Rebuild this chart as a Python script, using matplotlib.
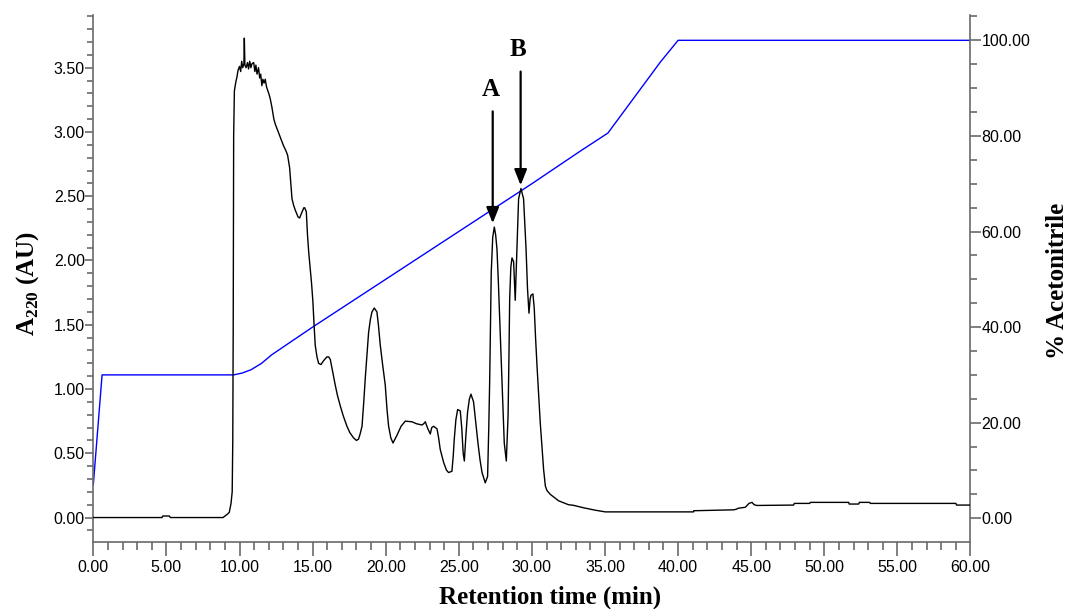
import matplotlib
matplotlib.use("Agg")
import matplotlib.pyplot as plt
from matplotlib import font_manager
from matplotlib.ticker import MultipleLocator, FormatStrFormatter

# absorbance trace (A220)
time_min = [0, 4.7, 4.75, 5.2, 5.27, 8.87, 9.14, 9.3, 9.42, 9.5, 9.54, 9.57, 9.6, 9.65, 9.75,
            9.83, 9.9, 10.0, 10.08, 10.15, 10.22, 10.3, 10.33, 10.37, 10.45, 10.55, 10.62, 10.7,
            10.78, 10.85, 10.97, 11.05, 11.12, 11.2, 11.3, 11.38, 11.45, 11.53, 11.6, 11.68, 11.76,
            11.85, 12.0, 12.1, 12.22, 12.35, 12.45, 12.55, 12.68, 12.85, 13.02, 13.15, 13.29, 13.43,
            13.52, 13.59, 13.7, 13.82, 14.0, 14.11, 14.25, 14.4, 14.46, 14.57, 14.65, 14.73, 14.85,
            14.93, 15.02, 15.1, 15.18, 15.3, 15.41, 15.57, 15.75, 15.98, 16.1, 16.21, 16.38, 16.55,
            16.7, 16.89, 17.1, 17.35, 17.55, 17.8, 18.0, 18.14, 18.25, 18.38, 18.5, 18.6, 18.72,
            18.83, 18.95, 19.06, 19.22, 19.4, 19.5, 19.63, 19.8, 19.97, 20.09, 20.2, 20.35, 20.5,
            20.77, 21.05, 21.34, 21.8, 22.1, 22.48, 22.6, 22.71, 22.85, 23.05, 23.15, 23.28, 23.51,
            23.62, 23.73, 23.96, 24.15, 24.3, 24.53, 24.62, 24.69, 24.8, 24.92, 25.1, 25.2, 25.3,
            25.38, 25.48, 25.6, 25.72, 25.83, 26.01, 26.15, 26.31, 26.45, 26.59, 26.81, 26.97,
            27.05, 27.11, 27.17, 27.22, 27.32, 27.43, 27.52, 27.61, 27.7, 27.79, 27.95, 28.11,
            28.25, 28.37, 28.43, 28.48, 28.56, 28.64, 28.75, 28.8, 28.86, 28.92, 28.98, 29.09,
            29.25, 29.43, 29.6, 29.7, 29.8, 29.88, 29.94, 30.07, 30.16, 30.25, 30.35, 30.57, 30.8,
            30.92, 31.03, 31.26, 31.49, 31.83, 32.06, 32.5, 32.85, 33.53, 34.34, 35.02, 41.06,
            41.07, 43.8, 44.0, 44.1, 44.6, 44.85, 45.05, 45.2, 45.38, 47.9, 47.95, 49.0, 49.05,
            51.67, 51.7, 52.35, 52.4, 53.1, 53.15, 59.0, 59.05, 60.0]
a220 = [0, 0, 0.012, 0.012, 0, 0, 0.023, 0.04, 0.11, 0.2, 0.6, 1.5, 2.97, 3.32, 3.39,
        3.43, 3.48, 3.51, 3.47, 3.55, 3.5, 3.53, 3.73, 3.52, 3.5, 3.54, 3.49, 3.55,
        3.5, 3.53, 3.54, 3.47, 3.52, 3.45, 3.5, 3.42, 3.45, 3.36, 3.41, 3.38, 3.41,
        3.35, 3.3, 3.26, 3.19, 3.1, 3.06, 3.03, 2.99, 2.94, 2.89, 2.86, 2.82, 2.72,
        2.58, 2.48, 2.43, 2.39, 2.34, 2.33, 2.37, 2.41, 2.41, 2.38, 2.2, 2.07, 1.92,
        1.82, 1.68, 1.5, 1.34, 1.25, 1.2, 1.19, 1.22, 1.25, 1.25, 1.23, 1.13, 1.03,
        0.95, 0.87, 0.79, 0.71, 0.66, 0.62, 0.6, 0.61, 0.65, 0.71, 0.9, 1.08, 1.27,
        1.44, 1.54, 1.6, 1.63, 1.6, 1.5, 1.34, 1.18, 1.03, 0.84, 0.71, 0.62, 0.58,
        0.64, 0.71, 0.75, 0.745, 0.73, 0.72, 0.73, 0.745, 0.7, 0.65, 0.7, 0.71, 0.69,
        0.62, 0.53, 0.43, 0.37, 0.35, 0.36, 0.48, 0.61, 0.76, 0.84, 0.83, 0.7, 0.5,
        0.44, 0.63, 0.82, 0.92, 0.96, 0.9, 0.75, 0.58, 0.45, 0.35, 0.27, 0.32,
        0.7, 1.05, 1.5, 1.91, 2.18, 2.26, 2.2, 2.09, 1.85, 1.57, 1.05, 0.58,
        0.44, 0.79, 1.25, 1.7, 1.95, 2.02, 1.99, 1.85, 1.69, 1.9, 2.09, 2.48,
        2.56, 2.48, 2.09, 1.78, 1.59, 1.7, 1.73, 1.74, 1.63, 1.4, 1.18, 0.74, 0.375,
        0.245, 0.21, 0.18, 0.16, 0.13, 0.12, 0.1, 0.095, 0.076, 0.057, 0.044, 0.044,
        0.053, 0.06, 0.065, 0.072, 0.08, 0.11, 0.118, 0.1, 0.094, 0.097, 0.11, 0.11, 0.118,
        0.118, 0.105, 0.105, 0.118, 0.118, 0.11, 0.11, 0.097, 0.097]

# acetonitrile gradient (%)
grad_time = [0, 0.6, 9.6, 10.2, 10.8, 11.5, 12.2, 15.0, 20.0, 25.0, 30.0, 33.3, 35.2, 38.8, 40.0, 60.0]
grad_pct = [7, 30, 30, 30.4, 31.1, 32.4, 34.2, 40.0, 50.0, 60.0, 70.0, 76.8, 80.6, 95.5, 100, 100]

# peak markers
peak_labels = ["A", "B"]
peak_time = [27.32, 29.23]
arrow_tip = [2.29, 2.585]
arrow_tail = [3.16, 3.47]

names = {f.name for f in font_manager.fontManager.ttflist}
if "Liberation Sans Narrow" in names:
    tick_font, tick_size = "Liberation Sans Narrow", 12.5
else:
    tick_font, tick_size = "Liberation Sans", 11.5

plt.rcParams["mathtext.fontset"] = "custom"
plt.rcParams["mathtext.bf"] = "Liberation Serif:bold"
plt.rcParams["mathtext.rm"] = "Liberation Serif"

axis_col = "#6a6a6a"

fig = plt.figure(figsize=(10.7, 6.09), dpi=100)
ax = fig.add_axes([0.0872, 0.1105, 0.8198, 0.8649])
ax2 = ax.twinx()

ax.plot(time_min, a220, color="black", lw=1.0, zorder=3)
ax2.plot(grad_time, grad_pct, color="#0000ff", lw=1.0)
ax.set_zorder(ax2.get_zorder() + 1)
ax.patch.set_visible(False)

ax.set_xlim(0, 60)
ax.set_ylim(-0.188, 3.91)
ax2.set_ylim(-4.9, 105.3)

ax.xaxis.set_major_locator(MultipleLocator(5))
ax.xaxis.set_minor_locator(MultipleLocator(1))
ax.yaxis.set_major_locator(MultipleLocator(0.5))
ax.yaxis.set_minor_locator(MultipleLocator(0.1))
ax2.yaxis.set_major_locator(MultipleLocator(20))
ax2.yaxis.set_minor_locator(MultipleLocator(5))
for axis in (ax.xaxis, ax.yaxis, ax2.yaxis):
    axis.set_major_formatter(FormatStrFormatter("%.2f"))

for a in (ax, ax2):
    a.spines["top"].set_visible(False)
    for s in a.spines.values():
        s.set_color(axis_col)
        s.set_linewidth(1.2)
ax.spines["right"].set_visible(False)
ax2.spines["left"].set_visible(False)
ax2.spines["bottom"].set_visible(False)

ax.tick_params(axis="x", which="major", length=10, width=1.2, color=axis_col, pad=3)
ax.tick_params(axis="x", which="minor", length=6, width=1.2, color=axis_col)
ax.tick_params(axis="y", which="major", length=6, width=1.2, color=axis_col, pad=0)
ax.tick_params(axis="y", which="minor", length=4, width=1.2, color=axis_col)
ax2.tick_params(axis="y", which="major", length=8, width=1.2, color=axis_col, pad=0)
ax2.tick_params(axis="y", which="minor", length=5, width=1.2, color=axis_col)

for lab in ax.get_xticklabels() + ax.get_yticklabels() + ax2.get_yticklabels():
    lab.set_fontfamily(tick_font)
    lab.set_fontsize(tick_size)
    lab.set_color("black")

label_font = dict(family="Liberation Serif", fontweight="bold", fontsize=18)
fig.text(550 / 1070, 1 - 597 / 609, "Retention time (min)", ha="center", va="center", **label_font)
fig.text(28 / 1070, 1 - 283 / 609, r"A$_\mathbf{220}$ (AU)", ha="center", va="center",
         rotation=90, **label_font)
fig.text(1057 / 1070, 1 - 281 / 609, "% Acetonitrile", ha="center", va="center",
         rotation=90, **label_font)

for lab, t, tip, tail in zip(peak_labels, peak_time, arrow_tip, arrow_tail):
    ax.annotate("", xy=(t, tip), xytext=(t, tail),
                arrowprops=dict(arrowstyle="-|>,head_length=0.95,head_width=0.38",
                                color="black", lw=1.6, shrinkA=0, shrinkB=0,
                                mutation_scale=10))
    ax.text(t - 0.15, tail + 0.08, lab, ha="center", va="bottom", **label_font)

fig.savefig("out.png", dpi=100)
